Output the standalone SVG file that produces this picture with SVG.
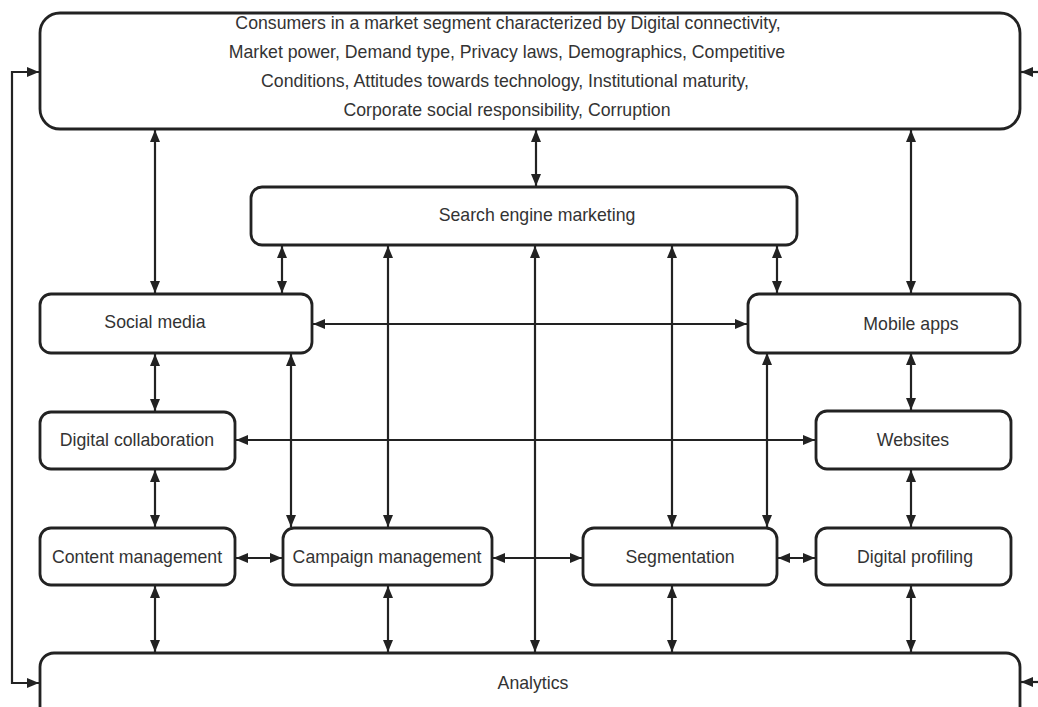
<svg xmlns="http://www.w3.org/2000/svg" width="1038" height="707" viewBox="0 0 1038 707">
<style>
.box{fill:#fff;stroke:#222;stroke-width:2.8}
.t{font-family:"Liberation Sans",Arial,sans-serif;font-size:17.7px;fill:#333;text-anchor:middle;dominant-baseline:central}
.c{fill:none;stroke:#222;stroke-width:2.2}
.d{marker-start:url(#ah);marker-end:url(#ah)}
.s{marker-end:url(#ah)}
</style>
<defs>
<marker id="ah" markerUnits="userSpaceOnUse" markerWidth="13" markerHeight="13" viewBox="0 0 13 13" refX="12" refY="6.5" orient="auto-start-reverse">
<path d="M0,1.5 L12,6.5 L0,11.5 Z" fill="#222"/>
</marker>
</defs>
<rect width="1038" height="707" fill="#fff"/>
<g id="connectors">
<line class="c d" x1="155" y1="130" x2="155" y2="293"/>
<line class="c d" x1="536" y1="130" x2="536" y2="186"/>
<line class="c d" x1="911" y1="130" x2="911" y2="293"/>
<line class="c d" x1="282" y1="246" x2="282" y2="293"/>
<line class="c d" x1="777" y1="246" x2="777" y2="293"/>
<line class="c d" x1="313" y1="324" x2="747" y2="324"/>
<line class="c d" x1="155" y1="354" x2="155" y2="411"/>
<line class="c d" x1="911" y1="353" x2="911" y2="410"/>
<line class="c d" x1="236" y1="440" x2="815" y2="440"/>
<line class="c d" x1="155" y1="470" x2="155" y2="527"/>
<line class="c d" x1="911" y1="470" x2="911" y2="527"/>
<line class="c d" x1="291" y1="354" x2="291" y2="527"/>
<line class="c d" x1="388" y1="246" x2="388" y2="527"/>
<line class="c d" x1="535" y1="246" x2="535" y2="652"/>
<line class="c d" x1="672" y1="246" x2="672" y2="527"/>
<line class="c d" x1="767" y1="353" x2="767" y2="527"/>
<line class="c d" x1="236" y1="558" x2="282" y2="558"/>
<line class="c d" x1="493" y1="558" x2="582" y2="558"/>
<line class="c d" x1="778" y1="558" x2="815" y2="558"/>
<line class="c d" x1="155" y1="586" x2="155" y2="652"/>
<line class="c d" x1="388" y1="586" x2="388" y2="652"/>
<line class="c d" x1="672" y1="586" x2="672" y2="652"/>
<line class="c d" x1="911" y1="586" x2="911" y2="652"/>
<path class="c d" d="M39,72 H12 V683 H39"/>
<line class="c s" x1="1040" y1="72" x2="1021" y2="72"/>
<line class="c s" x1="1040" y1="682" x2="1021" y2="682"/>
</g>
<g id="consumers">
<rect class="box" x="40" y="13" width="980" height="116" rx="20"/>
<text class="t" x="508" y="23">Consumers in a market segment characterized by Digital connectivity,</text>
<text class="t" x="507" y="52">Market power, Demand type, Privacy laws, Demographics, Competitive</text>
<text class="t" x="505" y="81">Conditions, Attitudes towards technology, Institutional maturity,</text>
<text class="t" x="507" y="110">Corporate social responsibility, Corruption</text>
</g>
<g id="sem">
<rect class="box" x="251" y="187" width="546" height="58" rx="11"/>
<text class="t" x="537" y="215">Search engine marketing</text>
</g>
<g id="social">
<rect class="box" x="40" y="294" width="272" height="59" rx="11"/>
<text class="t" x="155" y="322">Social media</text>
</g>
<g id="mobile">
<rect class="box" x="748" y="294" width="272" height="59" rx="11"/>
<text class="t" x="911" y="324">Mobile apps</text>
</g>
<g id="collab">
<rect class="box" x="40" y="412" width="195" height="57" rx="11"/>
<text class="t" x="137" y="440">Digital collaboration</text>
</g>
<g id="websites">
<rect class="box" x="816" y="411" width="195" height="58" rx="11"/>
<text class="t" x="913" y="440">Websites</text>
</g>
<g id="content">
<rect class="box" x="40" y="528" width="195" height="57" rx="11"/>
<text class="t" x="137" y="557">Content management</text>
</g>
<g id="campaign">
<rect class="box" x="283" y="528" width="209" height="57" rx="11"/>
<text class="t" x="387" y="557">Campaign management</text>
</g>
<g id="segmentation">
<rect class="box" x="583" y="528" width="194" height="57" rx="11"/>
<text class="t" x="680" y="557">Segmentation</text>
</g>
<g id="profiling">
<rect class="box" x="816" y="528" width="195" height="57" rx="11"/>
<text class="t" x="915" y="557">Digital profiling</text>
</g>
<g id="analytics">
<rect class="box" x="40" y="653" width="980" height="90" rx="14"/>
<text class="t" x="533" y="683">Analytics</text>
</g>
</svg>
